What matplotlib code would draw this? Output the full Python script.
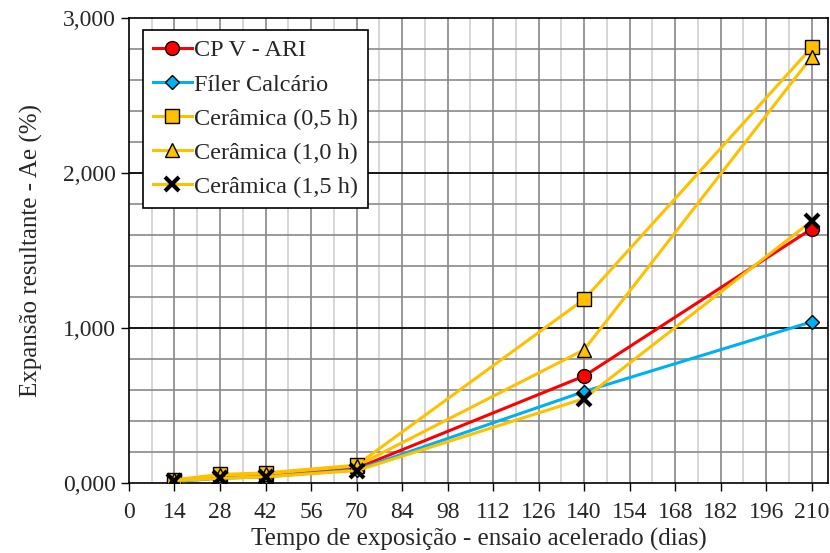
import matplotlib
matplotlib.use("Agg")
from matplotlib import pyplot as plt
import numpy as np

dias = [14, 28, 42, 70, 140, 210]
cp_v_ari = [0.012, 0.035, 0.045, 0.095, 0.69, 1.64]
filer = [0.010, 0.030, 0.040, 0.085, 0.59, 1.04]
ceram_05 = [0.020, 0.055, 0.065, 0.115, 1.185, 2.81]
ceram_10 = [0.020, 0.050, 0.060, 0.110, 0.86, 2.75]
ceram_15 = [0.015, 0.030, 0.040, 0.080, 0.545, 1.69]

plt.rcParams['font.family'] = ['Liberation Serif', 'DejaVu Serif']
txt = '#262626'

fig = plt.figure(figsize=(8.3, 5.53), dpi=100)
ax = fig.add_axes([0.1554, 0.1266, 0.8422, 0.8409])

# grid lines drawn by hand from the tick positions
for x in np.arange(7, 215, 14):
    ax.axvline(x, color='#d0d0d0', lw=1.2, zorder=0)
for x in np.arange(14, 215, 14):
    ax.axvline(x, color='#888888', lw=1.2, zorder=0)
for y in np.arange(0.2, 3.0, 0.2):
    ax.axhline(y, color='#8a8a8a', lw=1.2, zorder=0)
for y in [1, 2]:
    ax.axhline(y, color='black', lw=1.2, zorder=0.5)

lw = 2.2
ax.plot(dias, cp_v_ari, color='#ff0000', lw=lw, marker='o', ms=10,
        mfc='#ff0000', mec='black', mew=1, label='CP V - ARI', zorder=3)
ax.plot(dias, filer, color='#00b0f0', lw=lw, marker='D', ms=7,
        mfc='#00b0f0', mec='black', mew=1, label='Fíler Calcário', zorder=3)
ax.plot(dias, ceram_05, color='#ffc000', lw=lw, marker='s', ms=10,
        mfc='#ffc000', mec='black', mew=1, label='Cerâmica (0,5 h)', zorder=3)
ax.plot(dias, ceram_10, color='#ffc000', lw=lw, marker='^', ms=10,
        mfc='#ffc000', mec='black', mew=1, label='Cerâmica (1,0 h)', zorder=3)
ax.plot(dias, ceram_15, color='#ffc000', lw=lw, marker='x', ms=10,
        mec='black', mew=3, label='Cerâmica (1,5 h)', zorder=4)

ax.set_xlim(0, 215)
ax.set_ylim(0, 3)
ax.set_xticks(np.arange(0, 211, 14))
ax.set_yticks([0, 1, 2, 3])
ax.set_yticklabels(['0,000', '1,000', '2,000', '3,000'])
ax.tick_params(labelsize=17, direction='out', length=6, width=1,
               color='black', labelcolor=txt)
ax.tick_params(axis='x', pad=8)
for s in ax.spines.values():
    s.set_color('black')
    s.set_linewidth(1.2)

ax.set_xlabel('Tempo de exposição - ensaio acelerado (dias)', fontsize=18,
              color=txt, labelpad=3)
ax.set_ylabel('Expansão resultante - Ae (%)', fontsize=18, color=txt, labelpad=14)

leg = ax.legend(loc='upper left', bbox_to_anchor=(0.02, 0.975), fontsize=17.5,
                frameon=True, fancybox=False, edgecolor='black', framealpha=1,
                handlelength=1.6, handletextpad=0.1, borderpad=0.4,
                labelspacing=0.5, borderaxespad=0)
leg.get_frame().set_linewidth(1.2)
for t in leg.get_texts():
    t.set_color(txt)

fig.savefig('out.png', dpi=100)
